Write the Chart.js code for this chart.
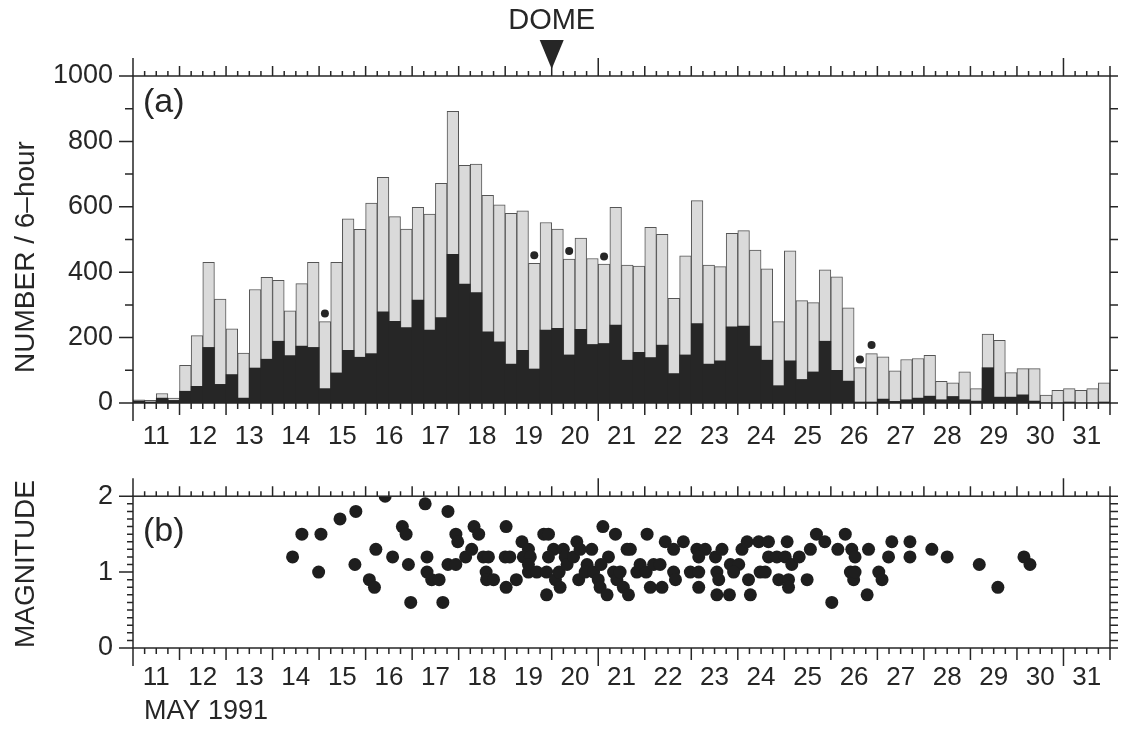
<!DOCTYPE html>
<html>
<head>
<meta charset="utf-8">
<script src="https://cdn.jsdelivr.net/npm/chart.js@4.4.0/dist/chart.umd.min.js"></script>
<style>
  html, body { margin: 0; padding: 0; background: #fff; }
  #wrap { position: relative; width: 1126px; height: 731px; }
  #topChart { position: absolute; left: 0; top: 0; }
  #botChart { position: absolute; left: 0; top: 460px; }
</style>
</head>
<body>
<div id="wrap">
  <canvas id="topChart" width="1126" height="460" style="width:1126px;height:460px"></canvas>
  <canvas id="botChart" width="1126" height="271" style="width:1126px;height:271px"></canvas>
</div>
<script>
const DAYS = [11, 12, 13, 14, 15, 16, 17, 18, 19, 20, 21, 22, 23, 24, 25, 26, 27, 28, 29, 30, 31];
const X_MIN = 11, X_MAX = 32;
const DOME_DAY = 20.0;

// earthquakes per 6-hour window, May 11 00h .. May 31 18h (4 per day)
const totalCount = [
  10, 8, 29, 15,     115, 206, 430, 318,   227, 153, 347, 384,   375, 282, 365, 430,
  249, 430, 563, 531,  611, 690, 570, 532,  598, 578, 672, 892,  727, 731, 635, 606,
  580, 588, 427, 552,  532, 440, 504, 442,  425, 598, 422, 419,  537, 516, 320, 450,
  619, 422, 417, 519,  527, 468, 410, 249,  465, 313, 307, 407,  386, 291, 108, 151,
  141, 98, 133, 136,   146, 66, 62, 95,     44, 211, 192, 93,    105, 105, 24, 39,
  44, 39, 44, 62
];
// black part of each bar
const blackCount = [
  6, 3, 15, 8,       36, 51, 170, 57,      87, 15, 107, 134,     189, 145, 174, 170,
  44, 92, 161, 140,  151, 279, 250, 231,   315, 223, 261, 455,   364, 338, 218, 187,
  119, 161, 104, 223,  228, 147, 225, 179,  182, 238, 131, 155,  139, 177, 90, 147,
  243, 119, 129, 233,  235, 174, 131, 53,   129, 72, 95, 189,    100, 67, 3, 3,
  12, 5, 10, 15,     21, 10, 20, 10,       6, 108, 18, 18,       25, 6, 0, 0,
  3, 0, 0, 3
];
// small dots above some bars
const flagDay = [15.125, 19.625, 20.375, 21.125, 26.625, 26.875];
const flagCount = [274, 452, 465, 448, 133, 177];

// magnitudes (panel b)
const magDay = [
  14.43, 14.63, 15.04, 14.99, 15.45, 15.79, 15.77, 16.22, 16.08, 16.19,
  16.42, 16.58, 16.79, 16.87, 16.92, 16.97, 17.28, 17.32, 17.32, 17.42,
  17.58, 17.66, 17.77, 17.77, 17.94, 17.94, 17.98, 18.15, 18.28, 18.33,
  18.43, 18.53, 18.64, 18.59, 18.60, 18.75, 19.02, 19.02, 19.24, 19.00,
  19.10, 19.36, 19.50, 19.39, 19.54, 19.50, 19.50, 19.68, 19.83, 19.93,
  19.89, 19.89, 20.04, 19.93, 20.08, 20.18, 20.16, 20.25, 20.29, 20.33,
  20.54, 20.47, 20.58, 20.61, 20.76, 20.72, 20.86, 20.90, 21.00, 21.04,
  21.10, 21.22, 21.06, 21.19, 21.37, 21.33, 21.40, 21.47, 21.62, 21.54,
  21.65, 21.69, 21.83, 21.90, 22.05, 22.03, 22.12, 22.19, 22.33, 22.37,
  22.44, 22.62, 22.62, 22.66, 22.83, 22.98, 23.12, 23.16, 23.16, 23.30,
  23.16, 23.55, 23.82, 23.52, 23.66, 23.55, 23.59, 23.84, 24.02, 23.91,
  24.09, 24.20, 24.23, 24.27, 24.45, 24.66, 24.48, 24.59, 24.66, 24.84,
  25.02, 24.88, 25.06, 25.09, 25.09, 25.16, 25.32, 25.49, 25.56, 25.69,
  25.87, 26.02, 26.15, 26.31, 26.45, 26.52, 26.42, 26.49, 26.52, 26.81,
  26.78, 27.03, 27.10, 27.31, 27.24, 27.70, 27.70, 28.17, 28.50, 29.19,
  29.59, 30.15, 30.28
];
const magValue = [
  1.2, 1.5, 1.5, 1.0, 1.7, 1.8, 1.1, 1.3, 0.9, 0.8,
  2.0, 1.2, 1.6, 1.5, 1.1, 0.6, 1.9, 1.2, 1.0, 0.9,
  0.9, 0.6, 1.8, 1.1, 1.1, 1.5, 1.4, 1.2, 1.3, 1.6,
  1.5, 1.2, 1.2, 1.0, 0.9, 0.9, 1.6, 0.8, 0.9, 1.2,
  1.2, 1.4, 1.3, 1.2, 1.2, 1.0, 1.1, 1.0, 1.5, 1.5,
  1.0, 0.7, 1.3, 1.2, 0.9, 0.8, 1.0, 1.3, 1.2, 1.1,
  1.4, 1.2, 0.9, 1.3, 1.1, 1.0, 1.3, 1.0, 0.9, 0.8,
  1.6, 1.2, 1.1, 0.7, 1.5, 1.0, 0.9, 1.0, 1.3, 0.8,
  0.7, 1.3, 1.0, 1.1, 1.5, 1.0, 0.8, 1.1, 1.1, 0.8,
  1.4, 1.3, 1.0, 0.9, 1.4, 1.0, 1.3, 0.8, 1.0, 1.3,
  1.2, 0.7, 0.7, 1.2, 1.3, 1.0, 0.9, 1.1, 1.1, 1.0,
  1.3, 1.4, 0.9, 0.7, 1.4, 1.4, 1.0, 1.0, 1.2, 1.2,
  1.2, 0.9, 1.4, 0.9, 0.8, 1.1, 1.2, 0.9, 1.3, 1.5,
  1.4, 0.6, 1.3, 1.5, 1.3, 1.2, 1.0, 0.9, 1.0, 1.3,
  0.7, 1.0, 0.9, 1.4, 1.2, 1.4, 1.2, 1.3, 1.2, 1.1,
  0.8, 1.2, 1.1
];

const INK = "#262626";
const LIGHT = "#dadada";
const FONT = "'Liberation Sans', Arial, sans-serif";

Chart.defaults.font.family = FONT;
Chart.defaults.color = INK;

// bar centres: middle of each 6-hour slot
const slotDay = totalCount.map((_, i) => X_MIN + (i + 0.5) / 4);

// box, outward ticks and free text for each panel
const framePlugin = {
  id: "frame",
  afterDraw(chart, args, o) {
    const ctx = chart.ctx, a = chart.chartArea;
    const xs = chart.scales.x, ys = chart.scales.y;
    ctx.save();
    ctx.strokeStyle = INK;
    ctx.lineWidth = 1.5;
    ctx.strokeRect(a.left, a.top, a.right - a.left, a.bottom - a.top);

    ctx.beginPath();
    const nx = (X_MAX - X_MIN) * 4;
    for (let k = 0; k <= nx; k++) {
      const px = xs.getPixelForValue(X_MIN + k / 4);
      let up = 5, down = 6;
      if (k % 4 === 0) { up = 10; down = 12; }
      if (k % 40 === 0) { up = 18; down = 18; }
      ctx.moveTo(px, a.top); ctx.lineTo(px, a.top - up);
      ctx.moveTo(px, a.bottom); ctx.lineTo(px, a.bottom + down);
    }
    const ny = Math.round((ys.max - ys.min) / o.yMinor);
    const per = Math.round(o.yMajor / o.yMinor);
    for (let k = 0; k <= ny; k++) {
      const py = ys.getPixelForValue(ys.min + k * o.yMinor);
      ctx.moveTo(a.left, py); ctx.lineTo(a.left - (k % per === 0 ? 14 : o.minorLen), py);
      ctx.moveTo(a.right, py); ctx.lineTo(a.right + 8, py);
    }
    ctx.stroke();

    ctx.fillStyle = INK;
    ctx.textBaseline = "middle";
    ctx.textAlign = "left";
    ctx.font = "34px " + FONT;
    ctx.fillText(o.letter, a.left + 10, a.top + o.letterDy);

    ctx.save();
    ctx.translate(26, o.titleY);
    ctx.rotate(-Math.PI / 2);
    ctx.textAlign = "center";
    ctx.font = "28px " + FONT;
    ctx.fillText(o.title, 0, 0);
    ctx.restore();

    if (o.dome) {
      const dx = xs.getPixelForValue(DOME_DAY);
      ctx.textAlign = "center";
      ctx.font = "29px " + FONT;
      ctx.fillText("DOME", dx, 21);
      ctx.beginPath();
      ctx.moveTo(dx - 12, 40);
      ctx.lineTo(dx + 12, 40);
      ctx.lineTo(dx, 69);
      ctx.closePath();
      ctx.fill();
    }
    if (o.month) {
      ctx.textAlign = "left";
      ctx.font = "27px " + FONT;
      ctx.fillText(o.month, a.left + 11, 252);
    }
    ctx.restore();
  }
};

function xAxis(height, pad) {
  return {
    type: "linear",
    min: X_MIN,
    max: X_MAX,
    offset: false,
    grid: { display: false, drawTicks: false },
    border: { display: false },
    ticks: {
      autoSkip: false,
      maxRotation: 0,
      padding: pad,
      font: { size: 26 },
      callback: v => String(Math.floor(v))
    },
    afterBuildTicks: s => { s.ticks = DAYS.map(d => ({ value: d + 0.5 })); },
    afterFit: s => { s.height = height; }
  };
}

new Chart(document.getElementById("topChart"), {
  type: "bar",
  data: {
    datasets: [
      {
        type: "scatter",
        data: flagDay.map((d, i) => ({ x: d, y: flagCount[i] })),
        pointRadius: 4,
        backgroundColor: INK,
        borderWidth: 0,
        order: 0
      },
      {
        data: slotDay.map((d, i) => ({ x: d, y: blackCount[i] })),
        backgroundColor: INK,
        borderWidth: 0,
        grouped: false,
        barPercentage: 1,
        categoryPercentage: 1,
        order: 1
      },
      {
        data: slotDay.map((d, i) => ({ x: d, y: totalCount[i] })),
        backgroundColor: LIGHT,
        borderColor: "#555",
        borderWidth: 1,
        grouped: false,
        barPercentage: 1,
        categoryPercentage: 1,
        order: 2
      }
    ]
  },
  options: {
    responsive: false,
    animation: false,
    layout: { padding: { left: 0, right: 16, top: 76, bottom: 0 } },
    plugins: {
      legend: { display: false },
      tooltip: { enabled: false },
      frame: { yMinor: 100, yMajor: 200, minorLen: 8, letter: "(a)", letterDy: 27,
               title: "NUMBER / 6\u2013hour", titleY: 257, dome: true }
    },
    scales: {
      x: xAxis(57, 18),
      y: {
        min: 0,
        max: 1000,
        grid: { display: false, drawTicks: false },
        border: { display: false },
        ticks: { stepSize: 200, padding: 20, font: { size: 27 }, callback: v => String(v) },
        afterFit: s => { s.width = 133; }
      }
    }
  },
  plugins: [framePlugin]
});

new Chart(document.getElementById("botChart"), {
  type: "scatter",
  data: {
    datasets: [{
      data: magDay.map((d, i) => ({ x: d, y: magValue[i] })),
      pointRadius: 6.5,
      backgroundColor: "#1e1e1e",
      borderWidth: 0
    }]
  },
  options: {
    responsive: false,
    animation: false,
    layout: { padding: { left: 0, right: 16, top: 25, bottom: 0 } },
    plugins: {
      legend: { display: false },
      tooltip: { enabled: false },
      frame: { yMinor: 0.1, yMajor: 1, minorLen: 6, letter: "(b)", letterDy: 35,
               title: "MAGNITUDE", titleY: 104, month: "MAY 1991" }
    },
    scales: {
      x: xAxis(83, 14),
      y: {
        min: 0,
        max: 2,
        grid: { display: false, drawTicks: false },
        border: { display: false },
        ticks: { stepSize: 1, padding: 20, font: { size: 27 }, callback: v => String(v) },
        afterFit: s => { s.width = 133; }
      }
    }
  },
  plugins: [framePlugin]
});
</script>
</body>
</html>
